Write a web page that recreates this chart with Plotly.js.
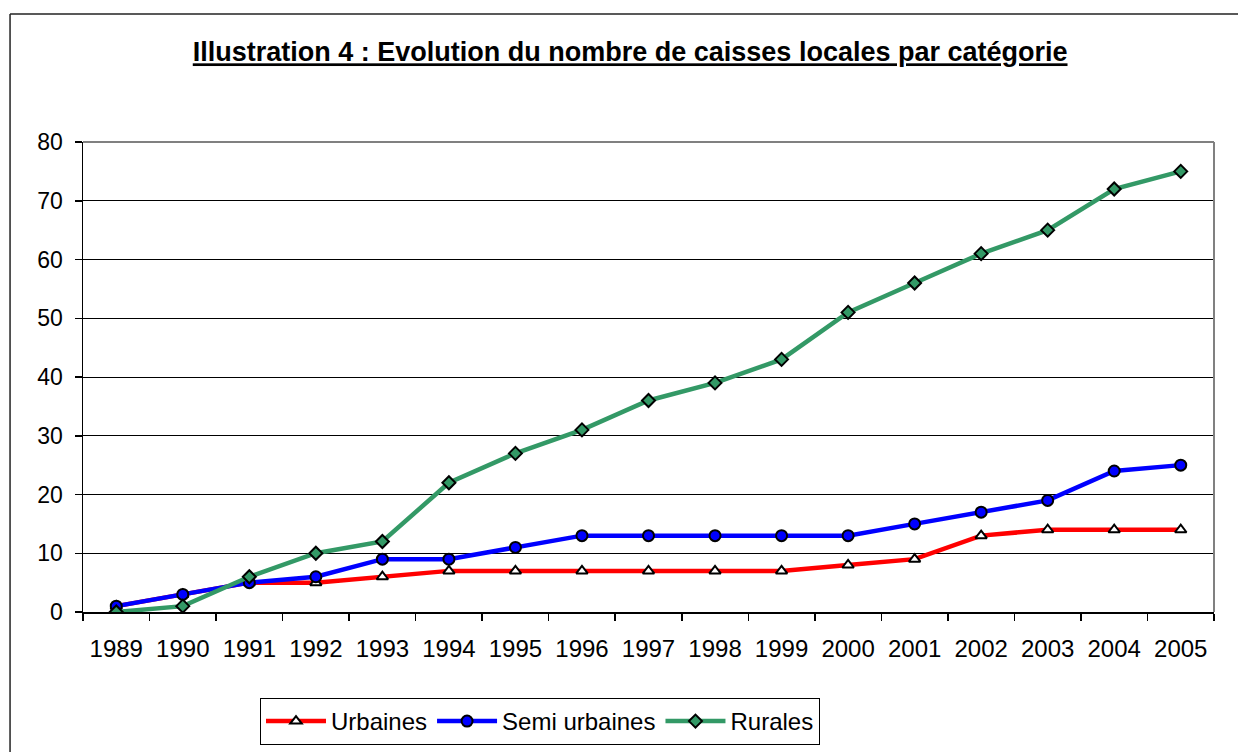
<!DOCTYPE html>
<html>
<head>
<meta charset="utf-8">
<script src="https://cdn.plot.ly/plotly-3.0.1.min.js"></script>
<style>
html,body{margin:0;padding:0;background:#fff;}
#chart{width:1238px;height:752px;}
</style>
</head>
<body>
<div id="chart"></div>
<script>
var years = ['1989','1990','1991','1992','1993','1994','1995','1996','1997','1998','1999','2000','2001','2002','2003','2004','2005'];
var urbaines = [1,3,5,5,6,7,7,7,7,7,7,8,9,13,14,14,14];
var semiUrbaines = [1,3,5,6,9,9,11,13,13,13,13,13,15,17,19,24,25];
var rurales = [0,1,6,10,12,22,27,31,36,39,43,51,56,61,65,72,75];
var seriesNames = ['Urbaines','Semi urbaines','Rurales'];
var yTicks = [0,10,20,30,40,50,60,70,80];

var font = 'Liberation Sans, Arial, sans-serif';

var traces = [
  {x: years, y: urbaines, name: seriesNames[0], type: 'scatter', mode: 'lines+markers',
   line: {color: '#FF0000', width: 4.5},
   marker: {symbol: 'triangle-up', size: 10, color: '#FFFFFF', line: {color: '#000000', width: 2}}},
  {x: years, y: semiUrbaines, name: seriesNames[1], type: 'scatter', mode: 'lines+markers',
   line: {color: '#0000FF', width: 4.5},
   marker: {symbol: 'circle', size: 11, color: '#0000FF', line: {color: '#000000', width: 2}}},
  {x: years, y: rurales, name: seriesNames[2], type: 'scatter', mode: 'lines+markers',
   line: {color: '#339966', width: 4.5},
   marker: {symbol: 'diamond', size: 10, color: '#339966', line: {color: '#000000', width: 2}}}
];

var layout = {
  width: 1238, height: 752,
  margin: {l: 83, r: 24, t: 142, b: 140, autoexpand: false},
  paper_bgcolor: '#FFFFFF', plot_bgcolor: '#FFFFFF',
  showlegend: true,
  title: {
    text: '<b>Illustration 4 : Evolution du nombre de caisses locales par catégorie</b>',
    font: {family: 'Liberation Sans Narrow, Arial Narrow, Liberation Sans, sans-serif', size: 27, color: '#000000', lineposition: 'under'},
    xref: 'container', x: 0.509, xanchor: 'center',
    yref: 'container', y: 0.931, yanchor: 'middle'
  },
  xaxis: {
    type: 'category', range: [-0.5, 16.5],
    showgrid: false, zeroline: false,
    showline: true, linecolor: '#000000', linewidth: 1.5,
    ticks: 'outside', tickson: 'boundaries', ticklen: 7, tickcolor: '#000000', tickwidth: 1.5,
    tickfont: {family: font, size: 24, color: '#000000'},
    ticklabelstandoff: 15
  },
  yaxis: {
    range: [0, 80], tickvals: yTicks, ticktext: yTicks.map(String),
    showgrid: true, gridcolor: '#000000', gridwidth: 1,
    zeroline: false,
    showline: true, linecolor: '#000000', linewidth: 1.5,
    ticks: 'outside', ticklen: 7, tickcolor: '#000000', tickwidth: 1.5,
    tickfont: {family: font, size: 23, color: '#000000'},
    ticklabelstandoff: 7
  },
  legend: {
    orientation: 'h', x: 0.1565, xanchor: 'left', y: -0.183, yanchor: 'top',
    bordercolor: '#000000', borderwidth: 1, bgcolor: '#FFFFFF',
    font: {family: font, size: 24, color: '#000000'},
    itemwidth: 60, tracegroupgap: 0
  },
  shapes: [
    {type: 'line', xref: 'paper', yref: 'paper', x0: 0, x1: 1, y0: 1, y1: 1, line: {color: '#808080', width: 2}},
    {type: 'line', xref: 'paper', yref: 'paper', x0: 1, x1: 1, y0: 0, y1: 1, line: {color: '#808080', width: 2}},
    {type: 'line', xref: 'paper', yref: 'paper', x0: -0.0645, x1: 1.03, y0: 1.2723, y1: 1.2723, line: {color: '#222222', width: 1.5}},
    {type: 'line', xref: 'paper', yref: 'paper', x0: -0.0645, x1: -0.0645, y0: 1.2723, y1: -0.32, line: {color: '#222222', width: 1.5}}
  ]
};

Plotly.newPlot('chart', traces, layout, {displayModeBar: false, staticPlot: true});
</script>
</body>
</html>
